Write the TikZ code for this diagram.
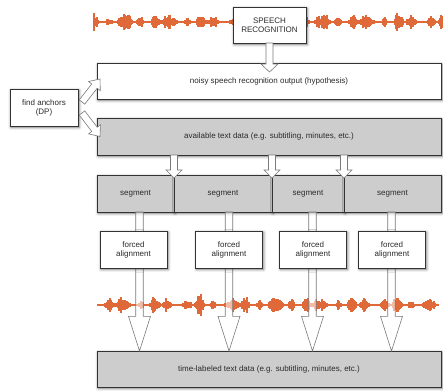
\documentclass[tikz,border=0pt]{standalone}
\usepackage{fontspec}
\setmainfont{Liberation Sans}
\usetikzlibrary{calc,positioning,shadows.blur}
\definecolor{Ink}{HTML}{2A2A2A}
\definecolor{Edge}{HTML}{333333}
\definecolor{Fog}{HTML}{CDCDCD}
\definecolor{Wave}{HTML}{E0693A}
\definecolor{ArrowLine}{HTML}{7A7A7A}
\tikzset{
  card/.style={draw=Edge,line width=0.6pt,fill=white,text=Ink,align=center,inner sep=1pt,outer sep=0pt,
    font=\fontsize{6}{6.8}\selectfont,
    blur shadow={shadow xshift=0.8pt,shadow yshift=-1pt,shadow blur steps=4,shadow opacity=55}},
  cardgray/.style={card,fill=Fog},
  fatarrow/.style={draw=ArrowLine,line width=0.45pt,fill=white,line join=miter}
}
% block arrow: [opts]{tail}{tip}{shaft half}{head half}{head length}
\newcommand{\fatarrow}[6][]{%
  \coordinate (fa-a) at (#2);
  \coordinate (fa-b) at (#3);
  \coordinate (fa-h) at ($(fa-b)!#6!(fa-a)$);
  \filldraw[fatarrow,#1] ($(fa-a)!#4!90:(fa-b)$) -- ($(fa-h)!#4!90:(fa-b)$) -- ($(fa-h)!#5!90:(fa-b)$) -- (fa-b)
    -- ($(fa-h)!#5!-90:(fa-b)$) -- ($(fa-h)!#4!-90:(fa-b)$) -- ($(fa-a)!#4!-90:(fa-b)$) -- cycle;
}
% speech waveform: {x0}{x1}{centre y}{seed}
\newcommand{\speechwave}[4]{%
  \pgfmathsetseed{#4}
  \draw[Wave,line width=1.1pt] (#1,#3) -- (#2,#3);
  \foreach \wx in {#1,...,#2}{
    \pgfmathsetmacro\wenv{max(0,0.3+0.4*sin(23.7*\wx+#4)+0.35*sin(9.1*\wx+3*#4)+0.25*sin(31*\wx))}
    \pgfmathsetmacro\wamp{0.7+9*\wenv*(0.3+0.7*rnd)}
    \draw[Wave,line width=0.85pt] (\wx,#3-\wamp) -- (\wx,#3+\wamp);
  }
}

\begin{document}
\begin{tikzpicture}[x=0.75pt,y=-0.75pt]
  \useasboundingbox (0,0) rectangle (443,390);
  \speechwave{94}{442}{22}{7}
  \speechwave{98}{438}{305}{31}
  \node[card,minimum width=54.75pt,minimum height=27pt] (sr) at (269.5,25) {SPEECH\\RECOGNITION};
  \node[card,minimum width=258pt,minimum height=27pt] (hyp) at (269,81) {noisy speech recognition output (hypothesis)};
  \node[card,minimum width=51pt,minimum height=27.75pt] (anchors) at (44,107.5) {find anchors\\(DP)};
  \node[cardgray,minimum width=258pt,minimum height=27.75pt] (avail) at (269,136.5) {available text data (e.g. subtitling, minutes, etc.)};
  % segment row
  \node[cardgray,minimum width=57.75pt,minimum height=27.75pt] (seg1) at (135.5,193.5) {segment};
  \node[cardgray,minimum width=73.5pt,minimum height=27.75pt,right=0pt of seg1] (seg2) {segment};
  \node[cardgray,minimum width=54pt,minimum height=27.75pt,right=0pt of seg2] (seg3) {segment};
  \node[cardgray,minimum width=72.75pt,minimum height=27.75pt,right=0pt of seg3] (seg4) {segment};
  \node[cardgray,minimum width=258pt,minimum height=27pt] (time) at (269,369) {time-labeled text data (e.g. subtitling, minutes, etc.)};
  % short arrows
  \fatarrow{sr.south}{$(sr.south |- hyp.north)+(0,9)$}{2.6pt}{6.4pt}{6pt}
  \fatarrow{$(anchors.east)+(4,-5.5)$}{$(hyp.west)+(3,-2)$}{2.6pt}{5.6pt}{6.75pt}
  \fatarrow{$(anchors.east)+(4,5.5)$}{$(avail.west)+(3,0)$}{2.6pt}{5.6pt}{6.75pt}
  \fatarrow{avail.south -| seg2.north west}{$(seg2.north west)+(0,3)$}{2.6pt}{6pt}{6pt}
  \fatarrow{avail.south -| seg3.north west}{$(seg3.north west)+(0,3)$}{2.6pt}{6pt}{6pt}
  \fatarrow{avail.south -| seg4.north west}{$(seg4.north west)+(0,3)$}{2.6pt}{6pt}{6pt}
  % long arrows through the alignment step
  \coordinate (col1) at (139.5,0);
  \coordinate (col2) at (229,0);
  \coordinate (col3) at (312.5,0);
  \coordinate (col4) at (391.5,0);
  \foreach \c/\s in {1/seg1,2/seg2,3/seg3,4/seg4}{
    \fatarrow[fill opacity=0.55]{\s.south -| col\c}{time.north -| col\c}{2.8pt}{8.25pt}{26pt}
  }
  \node[card,minimum width=50.25pt,minimum height=27.75pt] (fa1) at (133.5,249.5) {forced\\alignment};
  \node[card,minimum width=50.25pt,minimum height=27.75pt] (fa2) at (229,249.5) {forced\\alignment};
  \node[card,minimum width=50.25pt,minimum height=27.75pt] (fa3) at (313,249.5) {forced\\alignment};
  \node[card,minimum width=50.25pt,minimum height=27.75pt] (fa4) at (392,249.5) {forced\\alignment};
\end{tikzpicture}
\end{document}
